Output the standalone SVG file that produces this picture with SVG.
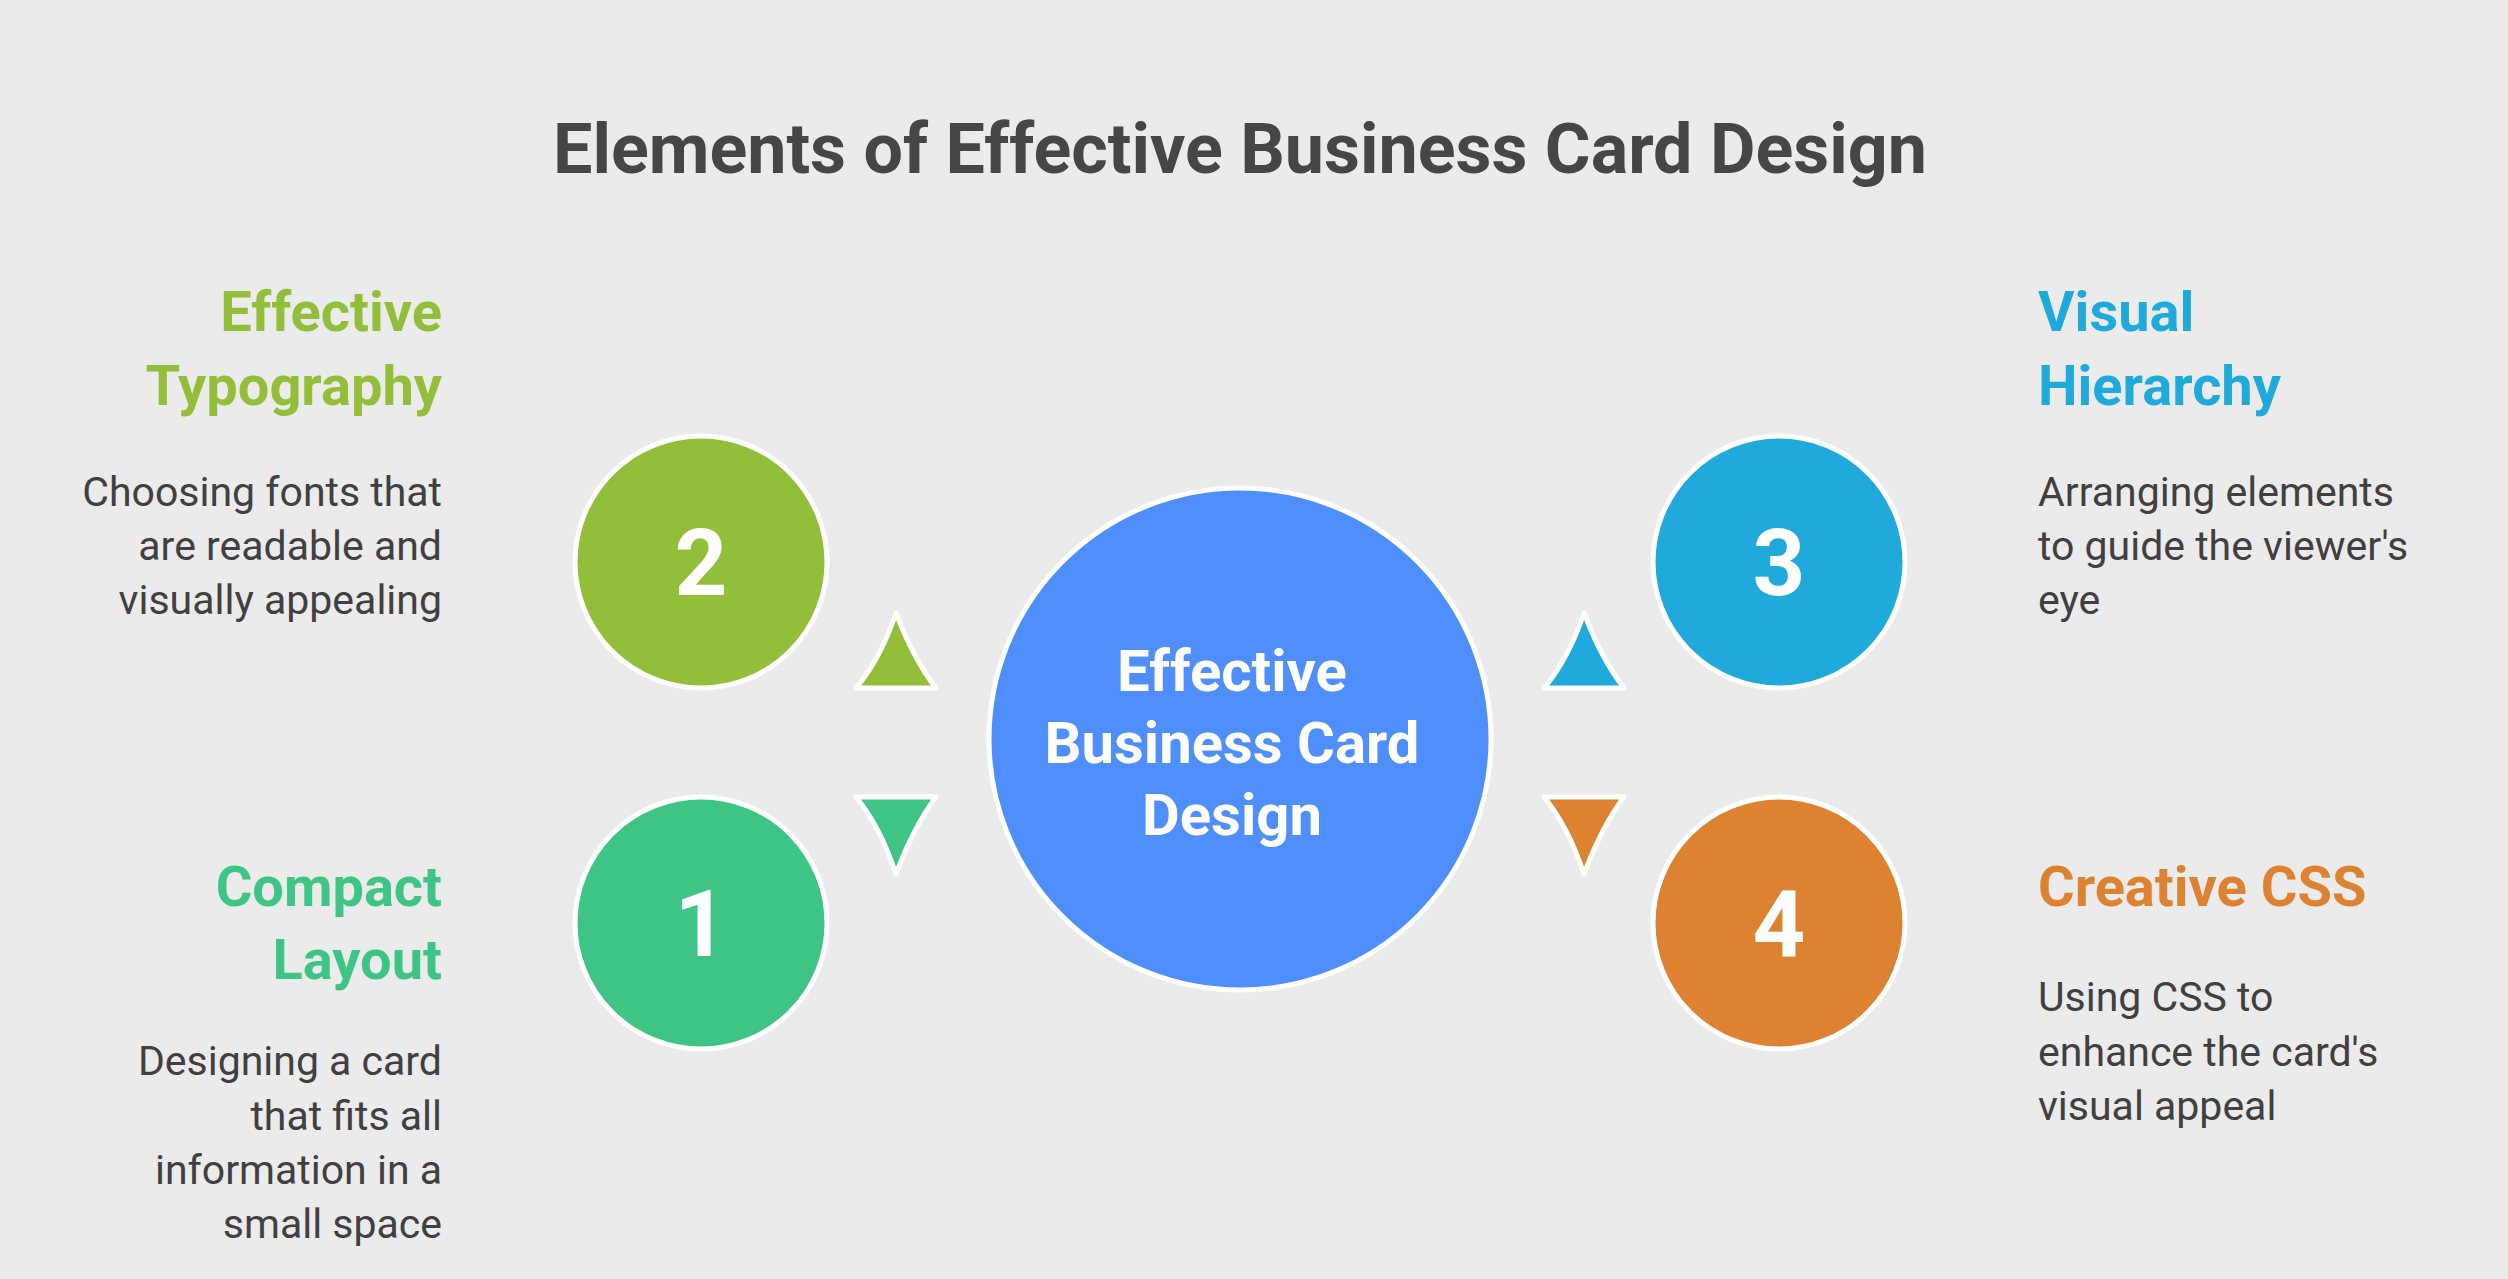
<svg xmlns="http://www.w3.org/2000/svg" width="2508" height="1279" viewBox="0 0 2508 1279">
<style>
text{font-family:Roboto,"Liberation Sans",sans-serif}
.h{font-weight:700;font-size:56px}
.d{font-size:41px;fill:#404040}
.n{font-weight:700;font-size:92px;fill:#fff;text-anchor:middle}
.c{stroke:#fff;stroke-width:5}
.t{stroke:#fff;stroke-width:5;stroke-linejoin:round}
.r{text-anchor:end}
</style>
<rect width="2508" height="1279" fill="#EBEBEB"/>
<text x="1240" y="173" text-anchor="middle" font-size="70" font-weight="700" fill="#464646">Elements of Effective Business Card Design</text>
<g id="connectors">
<path class="t" fill="#93BE3A" d="M896,613 Q880,660 856,688 L936,688 Q914,660 896,613Z"/>
<path class="t" fill="#3EC585" d="M856,797 L936,797 Q914,826 896,874 Q880,826 856,797Z"/>
<path class="t" fill="#1FAADB" d="M1584,613 Q1568,660 1544,688 L1624,688 Q1602,660 1584,613Z"/>
<path class="t" fill="#DD8231" d="M1544,797 L1624,797 Q1602,826 1584,874 Q1568,826 1544,797Z"/>
</g>
<g id="center">
<circle class="c" cx="1240" cy="739" r="251" fill="#4F8FFD"/>
<text x="1232" y="691" text-anchor="middle" font-size="58" font-weight="700" fill="#fff">Effective</text>
<text x="1232" y="763" text-anchor="middle" font-size="58" font-weight="700" fill="#fff">Business Card</text>
<text x="1232" y="835" text-anchor="middle" font-size="58" font-weight="700" fill="#fff">Design</text>
</g>
<g id="node2">
<circle class="c" cx="701" cy="562" r="126" fill="#93BE3A"/>
<text class="n" x="701" y="595">2</text>
<text class="h r" x="442" y="331" fill="#93BE3A">Effective</text>
<text class="h r" x="442" y="405" fill="#93BE3A">Typography</text>
<text class="d r" x="442" y="506">Choosing fonts that</text>
<text class="d r" x="442" y="560">are readable and</text>
<text class="d r" x="442" y="614">visually appealing</text>
</g>
<g id="node1">
<circle class="c" cx="701" cy="923" r="126" fill="#3EC585"/>
<text class="n" x="701" y="956">1</text>
<text class="h r" x="442" y="906" fill="#3EC585">Compact</text>
<text class="h r" x="442" y="979" fill="#3EC585">Layout</text>
<text class="d r" x="442" y="1075">Designing a card</text>
<text class="d r" x="442" y="1130">that fits all</text>
<text class="d r" x="442" y="1184">information in a</text>
<text class="d r" x="442" y="1238">small space</text>
</g>
<g id="node3">
<circle class="c" cx="1779" cy="562" r="126" fill="#1FAADB"/>
<text class="n" x="1779" y="595">3</text>
<text class="h" x="2038" y="331" fill="#1FAADB">Visual</text>
<text class="h" x="2038" y="405" fill="#1FAADB">Hierarchy</text>
<text class="d" x="2038" y="506">Arranging elements</text>
<text class="d" x="2038" y="560">to guide the viewer's</text>
<text class="d" x="2038" y="614">eye</text>
</g>
<g id="node4">
<circle class="c" cx="1779" cy="923" r="126" fill="#DD8231"/>
<text class="n" x="1779" y="956">4</text>
<text class="h" x="2038" y="906" fill="#DD8231">Creative CSS</text>
<text class="d" x="2038" y="1011">Using CSS to</text>
<text class="d" x="2038" y="1066">enhance the card's</text>
<text class="d" x="2038" y="1120">visual appeal</text>
</g>
</svg>
